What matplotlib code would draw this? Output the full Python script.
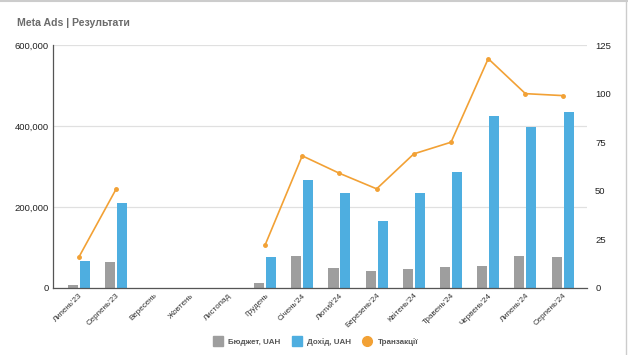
import numpy as np
import matplotlib.pyplot as plt
from matplotlib.lines import Line2D
from matplotlib.ticker import FuncFormatter

plt.rcParams['font.family'] = ['Liberation Sans', 'DejaVu Sans']

# дані
months = ["Липень'23", "Серпень'23", "Вересень", "Жовтень", "Листопад", "Грудень",
          "Січень'24", "Лютий'24", "Березень'24", "Квітень'24", "Травень'24",
          "Червень'24", "Липень'24", "Серпень'24"]
nan = np.nan
budget = [7000, 64000, nan, nan, nan, 12000, 80000, 50000, 43000, 47000, 52000, 55000, 80000, 77000]
revenue = [67000, 210000, nan, nan, nan, 77000, 267000, 234000, 165000, 234000, 286000, 425000, 397000, 434000]
transactions = [16, 51, nan, nan, nan, 22, 68, 59, 51, 69, 75, 118, 100, 99]

c_gray = '#9e9e9e'
c_blue = '#4eaee0'
c_orange = '#f2a135'

fig = plt.figure(figsize=(6.28, 3.55), dpi=100)
ax = fig.add_axes([0.0844, 0.189, 0.850, 0.684])

x = np.arange(len(months))
w = 0.27
ax.bar(x - 0.16, budget, w, color=c_gray, label='Бюджет, UAH', zorder=2)
ax.bar(x + 0.16, revenue, w, color=c_blue, label='Дохід, UAH', zorder=2)

ax.set_xlim(-0.7, 13.65)
ax.set_ylim(0, 600000)
ax.set_yticks([0, 200000, 400000, 600000])
ax.yaxis.set_major_formatter(FuncFormatter(lambda v, p: f'{int(v):,}'))
ax.grid(axis='y', color='#e0e0e0', linewidth=0.9, zorder=0)
ax.set_axisbelow(True)

for s in ['top', 'right']:
    ax.spines[s].set_visible(False)
ax.spines['left'].set_color('#555555')
ax.spines['bottom'].set_color('#555555')
ax.spines['left'].set_linewidth(0.9)
ax.spines['bottom'].set_linewidth(0.9)
ax.tick_params(axis='y', length=0, labelsize=6.8, pad=3, colors='#222222')
ax.tick_params(axis='x', length=0, pad=3)
ax.set_xticks(x)
ax.set_xticklabels(months, rotation=45, ha='right', rotation_mode='anchor',
                   fontsize=5.8, color='#333333')

ax2 = ax.twinx()
ax2.plot(x, transactions, color=c_orange, linewidth=1.2, marker='o', markersize=2.5,
         label='Транзакції', zorder=3)
ax2.set_ylim(0, 125)
ax2.set_yticks([0, 25, 50, 75, 100, 125])
for s in ['top', 'right', 'left', 'bottom']:
    ax2.spines[s].set_visible(False)
ax2.tick_params(axis='y', length=0, labelsize=6.8, pad=6, colors='#222222')

fig.text(0.027, 0.927, 'Meta Ads | Результати', fontsize=7.6, fontweight='bold', color='#6b6b6b')

handles = [
    Line2D([], [], marker='s', linestyle='', color=c_gray, markersize=7),
    Line2D([], [], marker='s', linestyle='', color=c_blue, markersize=7),
    Line2D([], [], marker='o', linestyle='', color=c_orange, markersize=7),
]
fig.legend(handles, ['Бюджет, UAH', 'Дохід, UAH', 'Транзакції'], loc='center',
           bbox_to_anchor=(0.5, 0.037), ncol=3, frameon=False,
           prop={'size': 5.8, 'weight': 'bold'},
           handletextpad=0.3, columnspacing=1.0, labelcolor='#555555')

# рамка
fig.add_artist(Line2D([0, 1], [0.997, 0.997], color='#cccccc', linewidth=1.5, transform=fig.transFigure))
fig.add_artist(Line2D([0.997, 0.997], [0, 1], color='#cccccc', linewidth=1, transform=fig.transFigure))

fig.savefig('out.png', dpi=100)
